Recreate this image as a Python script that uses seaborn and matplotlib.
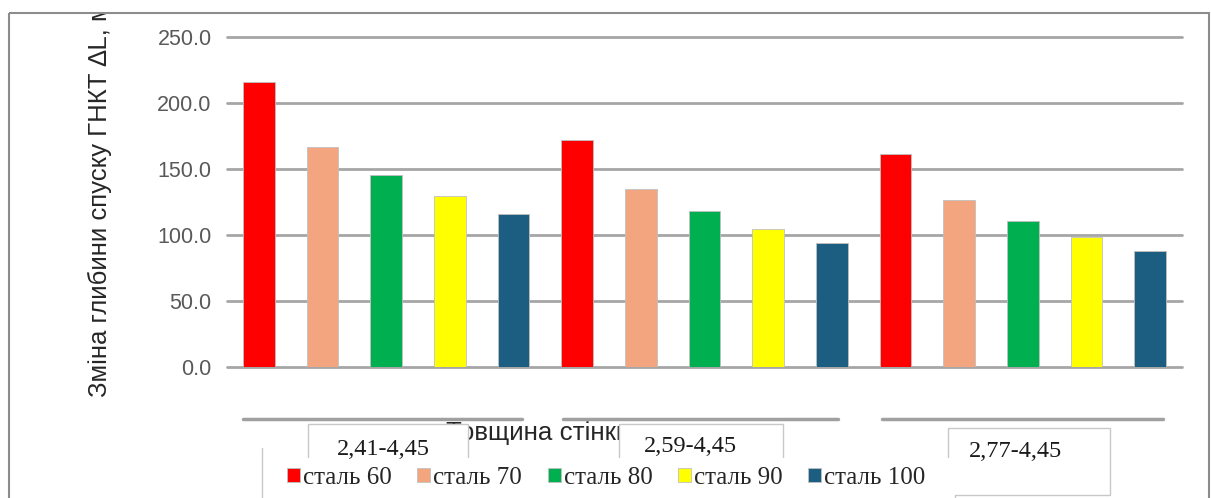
import numpy as np
import pandas as pd
import matplotlib
matplotlib.use("Agg")
import matplotlib.pyplot as plt
import matplotlib.transforms as mtransforms
from matplotlib.patches import Rectangle
from matplotlib.lines import Line2D
from matplotlib.transforms import Bbox
import seaborn as sns

# ---- data ----
groups = ["2,41-4,45", "2,59-4,45", "2,77-4,45"]
steels = ["сталь 60", "сталь 70", "сталь 80", "сталь 90", "сталь 100"]
stal_60 = [215.7, 171.9, 161.3]
stal_70 = [166.8, 135.1, 126.3]
stal_80 = [145.4, 118.2, 110.4]
stal_90 = [129.5, 104.6, 98.3]
stal_100 = [115.9, 93.8, 88.0]
yticks = [0, 50, 100, 150, 200, 250]
ylabel = "Зміна глибини спуску ГНКТ ∆L, м"
xlabel = "Товщина стінки"
colors = ["#FF0000", "#F2A57F", "#00B050", "#FFFF00", "#1B5E81"]

series = [stal_60, stal_70, stal_80, stal_90, stal_100]
df = pd.DataFrame({
    "group": [g for s in series for g in groups],
    "steel": [st for st, s in zip(steels, series) for _ in s],
    "value": [v for s in series for v in s],
})

W, H = 1211, 498
sns.set_theme(style="white")
plt.rcParams["font.family"] = ["Liberation Sans", "DejaVu Sans"]

fig = plt.figure(figsize=(W / 100, H / 100), dpi=100)
fig.patch.set_facecolor("white")
# pixel transform (origin top-left)
px = mtransforms.Affine2D().scale(1 / W, -1 / H).translate(0, 1) + fig.transFigure

ax_l, ax_r, ax_t, ax_b = 227, 1182, 37, 367
ax = fig.add_axes([ax_l / W, 1 - ax_b / H, (ax_r - ax_l) / W, (ax_b - ax_t) / H])

sns.barplot(data=df, x="group", y="value", hue="steel", hue_order=steels,
            order=groups, palette=colors, width=1.0, gap=0.5, ax=ax,
            edgecolor="#C0C0C0", linewidth=0.6, saturation=1)

handles, labels = ax.get_legend_handles_labels()
if ax.get_legend() is not None:
    ax.get_legend().remove()

ax.set_xlim(-0.5, len(groups) - 0.5)
ax.set_ylim(0, 250)
ax.set_yticks(yticks)
ax.set_yticklabels([f"{v:.1f}" for v in yticks])
ax.set_xticks([])
ax.set_xlabel("")
ax.set_ylabel("")
ax.tick_params(axis="y", length=0, pad=11, labelsize=15.5, labelcolor="#595959")
for s in ax.spines.values():
    s.set_visible(False)
ax.yaxis.grid(True, color="#A6A6A6", linewidth=2)
ax.set_axisbelow(True)
for gl in ax.get_ygridlines():
    gl.set_clip_on(False)
ax.patch.set_alpha(0)

# outer chart border
fig.add_artist(Rectangle((9, 13), 1200, 500, transform=px, fill=False,
                         ec="#8C8C8C", lw=1.5, zorder=0))

# y axis title (clipped by border)
t = fig.text(100 / W, 1 - 397 / H, ylabel, rotation=90, ha="center", va="bottom",
             fontsize=18.5, color="#262626")
t.set_clip_on(True)
t.set_clip_box(Bbox([[0, 0], [W, H - 14]]))

# category axis line pieces
for x0, x1 in [(243, 522), (563, 838), (882, 1163)]:
    fig.add_artist(Line2D([x0, x1], [419, 419], transform=px, color="#A0A0A0",
                          lw=2.5, zorder=2))

# x axis title (partly hidden behind label boxes)
fig.text(446 / W, 1 - 433 / H, xlabel, ha="left", va="center", fontsize=18.6,
         color="#262626", zorder=3)

# category label boxes: (left, top, width, height) and text centre
box_specs = [((308, 424, 160, 40), (383, 449)),
             ((619, 424, 164, 40), (690, 446)),
             ((948, 428, 162, 67), (1015, 451))]
for g, ((bx, by, bw, bh), (tx, ty)) in zip(groups, box_specs):
    fig.add_artist(Rectangle((bx, by), bw, bh, transform=px, fc="white",
                             ec="#C8C8C8", lw=1, zorder=4))
    fig.text(tx / W, 1 - ty / H, g, ha="center", va="center", fontsize=17.5,
             family=["Liberation Serif", "DejaVu Serif"], color="#1a1a1a", zorder=7)

# legend box
fig.add_artist(Rectangle((262, 458), 693, 60, transform=px, fc="white",
                         ec="none", zorder=5))
fig.add_artist(Line2D([262, 262], [448, 498], transform=px, color="#C8C8C8",
                      lw=1, zorder=6))
fig.add_artist(Line2D([955, 955], [495, 498], transform=px, color="#C8C8C8",
                      lw=1, zorder=6))

leg = fig.legend(handles, labels, ncol=5, frameon=False, loc="center left",
                 bbox_to_anchor=(287 / W, 1 - 478 / H),
                 prop={"family": ["Liberation Serif", "DejaVu Serif"], "size": 18},
                 handlelength=0.52, handleheight=0.52, handletextpad=0.12,
                 columnspacing=1.02, borderaxespad=0, borderpad=0)
leg.set_zorder(8)

fig.savefig("out.png", dpi=100, facecolor="white")
